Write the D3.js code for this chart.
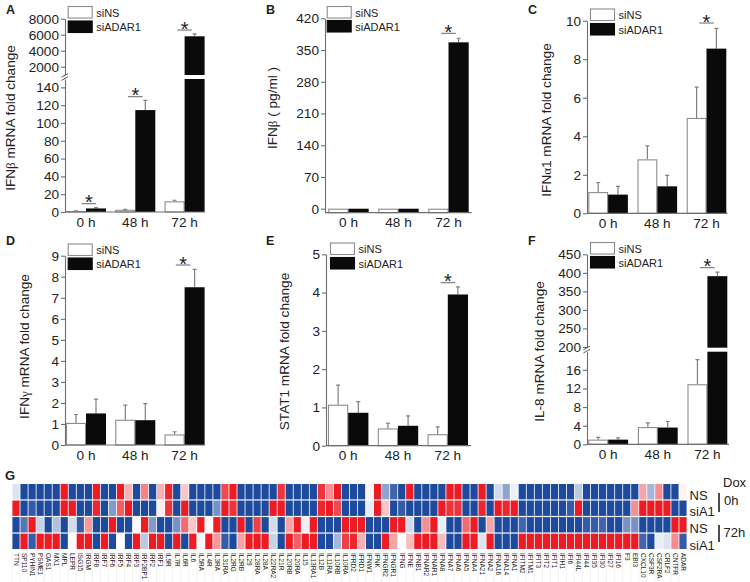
<!DOCTYPE html>
<html><head><meta charset="utf-8">
<script src="https://cdn.jsdelivr.net/npm/d3@7/dist/d3.min.js"></script>
<style>
html,body{margin:0;padding:0;background:#fff;}
svg{display:block;}
text{font-family:"Liberation Sans",Arial,sans-serif;fill:#222;}
</style></head><body>
<svg id="c" width="750" height="582"></svg>
<script>
const timepoints = ["0 h","48 h","72 h"];
const seriesNames = ["siNS","siADAR1"];

const aNS = [1,2.5,12],      aNSErr = [1.3,3,13.2];
const aSi = [4,114.5,5800],  aSiErr = [5,125.5,6100];
const bNS = [0,0,0],         bNSErr = [0,0,0];
const bSi = [0,0,367],       bSiErr = [0,0,376];
const cNS = [1.1,2.8,4.95],  cNSErr = [1.6,3.5,6.55];
const cSi = [0.97,1.4,8.55], cSiErr = [1.4,1.97,9.6];
const dNS = [1.05,1.2,0.5],  dNSErr = [1.45,1.9,0.63];
const dSi = [1.5,1.18,7.5],  dSiErr = [2.18,1.97,8.35];
const eNS = [1.07,0.45,0.3], eNSErr = [1.58,0.59,0.49];
const eSi = [0.86,0.52,3.95],eSiErr = [1.15,0.78,4.15];
const fNS = [1,3.7,12.9],    fNSErr = [1.5,4.6,18.2];
const fSi = [1,3.6,391],     fSiErr = [1.4,4.9,402];

const aTicksLow = [0,20,40,60,80,100,120,140], aTicksHigh = [2000,4000,6000,8000];
const bTicks = [0,70,140,210,280,350,420];
const cTicks = [0,2,4,6,8,10];
const dTicks = [0,1,2,3,4,5,6,7,8,9];
const eTicks = [0,1,2,3,4,5];
const fTicksLow = [0,4,8,12,16], fTicksHigh = [200,250,300,350,400,450];

const geneLabels = ["TTN","SP110","PYHIN1","PSME1","OAS1","MX1","MPL","LEPR","ISG15","IRGM","IRF8","IRF7","IRF6","IRF5","IRF4","IRF3","IRF2BP1","IRF2","IRF1","IL9R","IL7R","IL6R","IL6","IL5RA","IL4R","IL3RA","IL31RA","IL2RG","IL2RB","IL29","IL28RA","IL28A","IL22RA2","IL21R","IL20RB","IL20RA","IL15","IL13RA1","IL12B","IL11RA","IL10RB","IL10RA","IFRD2","IFRD1","IFNW1","IFNK","IFNGR2","IFNGR1","IFNG","IFNE","IFNB1","IFNAR2","IFNAR1","IFNA8","IFNA7","IFNA6","IFNA5","IFNA4","IFNA21","IFNA2","IFNA16","IFNA14","IFNA1","IFITM2","IFITM1","IFIT3","IFIT2","IFIT1","IFIH1","IFI6","IFI44L","IFI44","IFI35","IFI30","IFI27","IFI16","F3","EBI3","CXCL10","CSF3R","CSF2RA","CRLF2","CNTFR","ADAR"];
const heatNS0h  = [-0.15,-1,-1,-1,-1,-1,1,-1,-1,-1,1,-1,-1,1,0.35,-1,0.55,-1,0.35,0.95,-1,0.25,-1,-1,-1,-1,0.8,1,-1,-1,-1,-1,-1,0.9,-1,-1,-1,-1,0.9,0.5,1,-1,-1,-1,0.05,1,-0.5,-0.85,-1,1,-1,-1,-1,-1,1,1,-1,-1,1,-1,-0.2,-0.5,-0.08,-1,-1,-1,-1,-1,-1,-1,-0.3,-1,-1,-1,-1,-1,-1,-1,0.4,-0.4,0.5,-1,-1,0.05];
const heatSi0h  = [1,-1,-0.9,-1,-1,-1,1,1,-1,-1,0.95,-1,-0.55,0.7,1,-1,-1,-1,0.08,0.9,-1,1,-1,-1,-1,-0.6,1,0.9,-1,-1,-1,-1,1,1,-1,-1,-1,-1,0.95,1,0.8,-1,-1,-1,-0.1,1,0.25,-1,-0.9,-1,-1,-1,-1,1,0.9,0.9,-1,-1,0.95,-1,1,0.95,1,-1,-1,-1,-1,-1,-1,-0.9,1,-1,-1,-1,-1,-1,-1,0.5,1,1,1,1,-1,-1];
const heatNS72h = [-1,-0.75,1,-0.25,-1,-0.35,-1,-0.2,-0.9,0.45,-1,-1,1,-1,-1,0.03,1,-0.55,-1,-1,-0.6,0.65,0.25,1,0.03,1,-1,-1,1,-1,0.85,-1,-0.2,-1,0.4,1,-0.08,1,-1,-1,-1,1,1,1,-1,-1,-1,1,1,-0.2,-1,0.5,1,-0.1,-1,-1,0.65,1,-1,0.4,-1,-1,-1,-0.85,-1,-1,-1,-1,-1,-1,-1,-0.9,-0.9,-0.85,-1,-1,-0.6,-0.6,-1,-1,-1,-1,1,1];
const heatSi72h = [-1,1,-0.9,1,1,1,-1,0,1,1,-1,1,-1,0,-1,1,-0.3,1,1,-1,1,-1,1,-0.05,1,0.45,-0.9,-1,0.4,1,1,1,-0.25,-1,1,0.7,1,1,-1,-1,-0.4,0.85,0.95,0.35,-1,-1,1,0.4,0,0.3,1,1,1,0.3,-1,-1,1,1,-0.15,1,-1,-1,-1,1,1,1,1,1,1,1,1,1,1,1,1,1,1,1,-0.85,-1,-0.1,-0.15,0.5,-0.9];
const heatRows = ["NS 0h","siA1 0h","NS 72h","siA1 72h"];
const heatRowLabels = ["NS","siA1","NS","siA1"];

const svg = d3.select("#c");
const GREEK = {"β":1,"α":1,"γ":1};
const FONT = '"Liberation Sans",Arial,sans-serif';

function panel(cfg){
  const g = svg.append("g");
  const x0 = d3.scaleBand().domain(timepoints)
    .range([cfg.barStart, cfg.barStart + 3*cfg.barW*2 + 2*cfg.gap])
    .paddingInner(cfg.gap/(cfg.barW*2+cfg.gap));
  const x1 = d3.scaleBand().domain(seriesNames).range([0,x0.bandwidth()]);
  const segs = cfg.segs.map(s=>({...s, y:d3.scaleLinear().domain(s.domain).range(s.range)}));
  const segFor = v => segs.find(s=>v<=s.domain[1]) || segs[segs.length-1];
  const py = v => segFor(v).y(v);

  seriesNames.forEach((name,si)=>{
    const vals = cfg.vals[si], errs = cfg.errs[si];
    timepoints.forEach((t,i)=>{
      const xx = x0(t)+x1(name), w = x1.bandwidth(), v = vals[i];
      if(errs[i]>v){
        const cx = xx+w/2, yT = py(errs[i]), yB = py(v);
        g.append("path").attr("d",`M${cx},${yB}V${yT}M${cx-2},${yT}H${cx+2}`)
          .attr("fill","none").attr("stroke","#808080").attr("stroke-width",1.2);
      }
      segs.forEach(s=>{
        if(v<s.domain[0]) return;
        const top = s.y(Math.min(v,s.domain[1])), base = s.y(s.domain[0]);
        if(si===0){
          g.append("rect").attr("x",xx+0.5).attr("y",top+0.5).attr("width",w-1).attr("height",Math.max(0,base-top-0.5))
            .attr("fill","#fff").attr("stroke","#8c8c8c").attr("stroke-width",1.1);
        } else {
          g.append("rect").attr("x",xx).attr("y",top).attr("width",w).attr("height",base-top).attr("fill","#0a0a0a");
        }
      });
    });
  });

  segs.forEach(s=>{
    const ax = g.append("g").attr("transform",`translate(${cfg.axisX},0)`)
      .call(d3.axisLeft(s.y).tickValues(s.ticks).tickFormat(d3.format("d")).tickSize(4).tickSizeOuter(0).tickPadding(2));
    ax.selectAll(".domain,.tick line").attr("stroke","#6e6e6e").attr("stroke-width",1.1);
    ax.selectAll("text").style("font-size","13.6px").style("font-family",FONT).attr("fill","#222");
  });
  if(cfg.breakY){
    [-1.6,1.6].forEach(d=>{
      g.append("line").attr("x1",cfg.axisX-3.5).attr("x2",cfg.axisX+3)
        .attr("y1",cfg.breakY+d+1.8).attr("y2",cfg.breakY+d-1.8)
        .attr("stroke","#555").attr("stroke-width",1);
    });
  }
  const xa = g.append("g").attr("transform",`translate(0,${cfg.baseY})`)
    .call(d3.axisBottom(x0).tickSize(0).tickPadding(5));
  xa.select(".domain").remove();
  xa.selectAll("text").style("font-size","13.6px").style("font-family",FONT).attr("fill","#222");
  g.append("line").attr("x1",cfg.axisX).attr("x2",cfg.axisEnd).attr("y1",cfg.baseY).attr("y2",cfg.baseY)
    .attr("stroke","#6e6e6e").attr("stroke-width",1.2);

  seriesNames.forEach((n,i)=>{
    const ly = cfg.legY[i];
    g.append("rect").attr("x",cfg.legX+0.5).attr("y",ly+0.5).attr("width",24).attr("height",11.5)
      .attr("fill",i?"#0a0a0a":"#fff").attr("stroke",i?"#0a0a0a":"#8c8c8c").attr("stroke-width",1.1);
    g.append("text").attr("x",cfg.legX+28.5).attr("y",ly+10.5).text(n).style("font-size","11px").attr("fill","#333");
  });

  cfg.stars.forEach(s=>{
    const cx = x0(timepoints[s.group]) + x0.bandwidth()/2 + (s.dx||0);
    g.append("line").attr("x1",cx-7.3).attr("x2",cx+7.3).attr("y1",s.y).attr("y2",s.y)
      .attr("stroke","#666").attr("stroke-width",1);
    g.append("text").attr("x",cx).attr("y",s.y+5.5).attr("text-anchor","middle").text("*")
      .style("font-size","20px").attr("fill","#222");
  });

  const tt = g.append("text").attr("text-anchor","middle")
    .attr("transform",`translate(${cfg.titleX},${cfg.titleY}) rotate(-90)`)
    .style("font-size","13.6px");
  cfg.title.forEach(p=>{
    const ts = tt.append("tspan").text(p);
    if(GREEK[p[0]]) ts.style("font-family",'"Liberation Serif",serif').style("font-size","13px");
  });

  g.append("text").attr("x",cfg.letterX).attr("y",cfg.letterY).text(cfg.letter)
    .style("font-size","12.5px").style("font-weight","bold").attr("fill","#111");
}

panel({letter:"A",letterX:6,letterY:13.5,title:["IFN","β"," mRNA fold change"],titleX:14.5,titleY:118,
  vals:[aNS,aSi],errs:[aNSErr,aSiErr],barStart:66,barW:20,gap:9.3,axisX:65,axisEnd:205,baseY:212,
  segs:[{domain:[0,149.4],range:[212,79],ticks:aTicksLow},{domain:[962,8000],range:[75,18.7],ticks:aTicksHigh}],
  breakY:77,legX:67.7,legY:[6,20.5],
  stars:[{group:0,y:203.7,dx:2.8},{group:1,y:96.7},{group:2,y:30}]});
panel({letter:"B",letterX:266,letterY:13.5,title:["IFN","β"," ( pg/ml )"],titleX:276.5,titleY:108,
  vals:[bNS,bSi],errs:[bNSErr,bSiErr],barStart:328.3,barW:20.2,gap:9.6,axisX:325,axisEnd:471.7,baseY:212.7,
  segs:[{domain:[-8.8,420],range:[212.7,18.3],ticks:bTicks}],legX:326.7,legY:[6,20],
  stars:[{group:2,y:33.3}]});
panel({letter:"C",letterX:528,letterY:13.5,title:["IFN","α","1 mRNA fold change"],titleX:550.5,titleY:120,
  vals:[cNS,cSi],errs:[cNSErr,cSiErr],barStart:588.3,barW:19.8,gap:9.6,axisX:587,axisEnd:727.3,baseY:213.3,
  segs:[{domain:[0,10],range:[213.3,20.7],ticks:cTicks}],legX:590,legY:[8.5,23],
  stars:[{group:2,y:23}]});
panel({letter:"D",letterX:6,letterY:245,title:["IFN","γ"," mRNA fold change"],titleX:29,titleY:346.5,
  vals:[dNS,dSi],errs:[dNSErr,dSiErr],barStart:66,barW:20,gap:9.3,axisX:65,axisEnd:205,baseY:445,
  segs:[{domain:[0,9],range:[445,255.7],ticks:dTicks}],legX:67.7,legY:[243.5,257.5],
  stars:[{group:2,y:265,dx:-1.5}]});
panel({letter:"E",letterX:266,letterY:245,title:["STAT1 mRNA fold change"],titleX:289.3,titleY:351.5,
  vals:[eNS,eSi],errs:[eNSErr,eSiErr],barStart:328,barW:20.2,gap:9.4,axisX:326,axisEnd:471,baseY:445.7,
  segs:[{domain:[0,5],range:[445.7,254.3],ticks:eTicks}],legX:330,legY:[242.5,257],
  stars:[{group:2,y:282.7}]});
panel({letter:"F",letterX:528,letterY:245,title:["IL-8 mRNA fold change"],titleX:544,titleY:351.5,
  vals:[fNS,fSi],errs:[fNSErr,fSiErr],barStart:588.3,barW:19.9,gap:9.8,axisX:587,axisEnd:729,baseY:444.3,
  segs:[{domain:[0,19.9],range:[444.3,351.7],ticks:fTicksLow},{domain:[198,450],range:[347.7,254.3],ticks:fTicksHigh}],
  breakY:349.5,legX:590,legY:[242,256],
  stars:[{group:2,y:267.7}]});

const heatVals = [heatNS0h,heatSi0h,heatNS72h,heatSi72h];
const hx = d3.scaleBand().domain(geneLabels).range([12,687]).paddingInner(0.1).paddingOuter(0.05);
const hy = d3.scaleBand().domain(heatRows).range([484,549]).paddingInner(0.07);
const hc = d3.scaleLinear().domain([-1,0,1]).range(["#1e4a9e","#ffffff","#ed1c24"]);
heatRows.forEach((r,ri)=>{
  svg.append("g").selectAll("rect").data(heatVals[ri]).join("rect")
    .attr("x",(d,i)=>hx(geneLabels[i])).attr("y",hy(r))
    .attr("width",hx.bandwidth()).attr("height",hy.bandwidth())
    .attr("fill",d=>hc(d));
});
const hl = svg.append("g");
geneLabels.forEach(g=>{
  const edge = hx(g)-hx.step()*hx.paddingInner()/2;
  hl.append("line").attr("x1",edge).attr("x2",edge).attr("y1",552).attr("y2",582).attr("stroke","#f2f2f2").attr("stroke-width",1);
  hl.append("text").attr("transform",`translate(${hx(g)+hx.bandwidth()/2-2.2},553) rotate(90)`)
    .text(g).style("font-size","6.5px").attr("fill","#444");
});
heatRowLabels.forEach((t,i)=>{
  svg.append("text").attr("x",689.5).attr("y",hy(heatRows[i])+hy.bandwidth()+0.5).text(t).style("font-size","13px").attr("fill","#111");
});
[["Dox",723,487],["0h",724,505],["72h",723.5,537]].forEach(d=>{
  svg.append("text").attr("x",d[1]).attr("y",d[2]).text(d[0]).style("font-size","13px").attr("fill","#111");
});
[[493,512],[525,542]].forEach(d=>{
  svg.append("line").attr("x1",719).attr("x2",719).attr("y1",d[0]).attr("y2",d[1]).attr("stroke","#111").attr("stroke-width",1.5);
});
svg.append("text").attr("x",5).attr("y",480).text("G").style("font-size","13px").style("font-weight","bold").attr("fill","#111");
</script>
</body></html>
